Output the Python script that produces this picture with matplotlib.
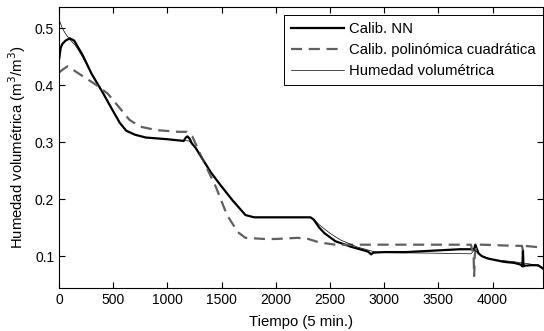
import matplotlib
matplotlib.use("Agg")
import matplotlib.pyplot as plt

plt.rcParams['font.family'] = ['Liberation Sans', 'DejaVu Sans']

# Calib. NN (thick black)
nn_x = [0, 5, 15, 30, 60, 100, 140, 180, 220, 300, 400, 500, 560, 620, 700, 800, 1000,
        1150, 1170, 1185, 1205, 1225, 1260, 1400, 1500, 1600, 1720, 1800, 2000, 2200,
        2320, 2350, 2400, 2450, 2550, 2700, 2850, 2880, 2900, 3000, 3200, 3500, 3700,
        3830, 3840, 3850, 3870, 3900, 3950, 4000, 4100, 4200, 4260, 4275, 4280, 4285,
        4295, 4350, 4420, 4465]
nn_y = [0.445, 0.45, 0.465, 0.472, 0.478, 0.482, 0.478, 0.465, 0.452, 0.42, 0.388, 0.354,
        0.334, 0.32, 0.313, 0.308, 0.305, 0.302, 0.308, 0.31, 0.306, 0.298, 0.29, 0.247,
        0.222, 0.198, 0.172, 0.168, 0.168, 0.168, 0.168, 0.164, 0.15, 0.14, 0.126, 0.116,
        0.108, 0.103, 0.106, 0.107, 0.107, 0.11, 0.112, 0.112, 0.12, 0.115, 0.105, 0.1,
        0.096, 0.094, 0.09, 0.088, 0.085, 0.082, 0.11, 0.082, 0.083, 0.084, 0.084, 0.078]

# Calib. polinómica cuadrática (grey dashed)
poly_x = [0, 40, 80, 120, 200, 330, 450, 550, 650, 750, 900, 1100, 1180, 1230, 1300,
          1450, 1550, 1650, 1720, 1900, 2000, 2200, 2300, 2400, 2550, 3000, 3500, 3800,
          3825, 3830, 3835, 3850, 3900, 4200, 4270, 4280, 4290, 4400, 4465]
poly_y = [0.422, 0.428, 0.433, 0.428, 0.418, 0.402, 0.385, 0.362, 0.339, 0.327, 0.321,
          0.318, 0.318, 0.31, 0.28, 0.22, 0.172, 0.142, 0.132, 0.13, 0.13, 0.132, 0.13,
          0.124, 0.12, 0.12, 0.12, 0.12, 0.1, 0.065, 0.1, 0.12, 0.12, 0.118, 0.118, 0.11,
          0.118, 0.116, 0.115]

# Humedad volumétrica (thin black)
hum_x = [0, 30, 60, 100, 150, 200, 300, 400, 500, 560, 620, 700, 800, 1000, 1200,
         1260, 1400, 1500, 1600, 1720, 1800, 2000, 2320, 2350, 2400, 2500, 2600, 2750,
         2900, 3000, 3500, 3800, 3830, 3850, 3900, 4000, 4200, 4350, 4465]
hum_y = [0.515, 0.5, 0.49, 0.48, 0.47, 0.455, 0.42, 0.388, 0.354, 0.334, 0.32, 0.313,
         0.308, 0.305, 0.302, 0.29, 0.247, 0.222, 0.198, 0.172, 0.168, 0.168, 0.168,
         0.165, 0.155, 0.14, 0.128, 0.116, 0.108, 0.106, 0.105, 0.104, 0.11, 0.108, 0.1,
         0.094, 0.09, 0.086, 0.08]

fig = plt.figure(figsize=(5.44, 3.31), dpi=100)
ax = fig.add_axes([59/544, 43/331, 484/544, 281/331])

ax.plot(nn_x, nn_y, color='black', lw=1.6, label='Calib. NN')
ax.plot(poly_x, poly_y, color='#606060', lw=1.6, ls=(0, (5, 3)),
        label='Calib. polinómica cuadrática')
ax.plot(hum_x, hum_y, color='black', lw=0.5, label='Humedad volumétrica')

ax.set_xlim(0, 4465)
ax.set_ylim(0.044, 0.537)
ax.set_xticks([0, 500, 1000, 1500, 2000, 2500, 3000, 3500, 4000])
ax.set_yticks([0.1, 0.2, 0.3, 0.4, 0.5])
ax.tick_params(direction='in', top=True, right=True, length=4, labelsize=10)
ax.set_xlabel('Tiempo (5 min.)', fontsize=10.7, labelpad=6)
ax.set_ylabel('Humedad volumétrica (m$^3$/m$^3$)', fontsize=10.7, labelpad=5)
for s in ax.spines.values():
    s.set_linewidth(0.8)

leg = ax.legend(loc='upper right', bbox_to_anchor=(1, 1 - 8/281), borderaxespad=0,
                fontsize=10.7, handlelength=3.6, labelspacing=0.45, handletextpad=0.3,
                borderpad=0.5, fancybox=False, framealpha=1)
leg.get_frame().set_edgecolor('black')
leg.get_frame().set_linewidth(0.7)

fig.savefig('out.png', dpi=100)
